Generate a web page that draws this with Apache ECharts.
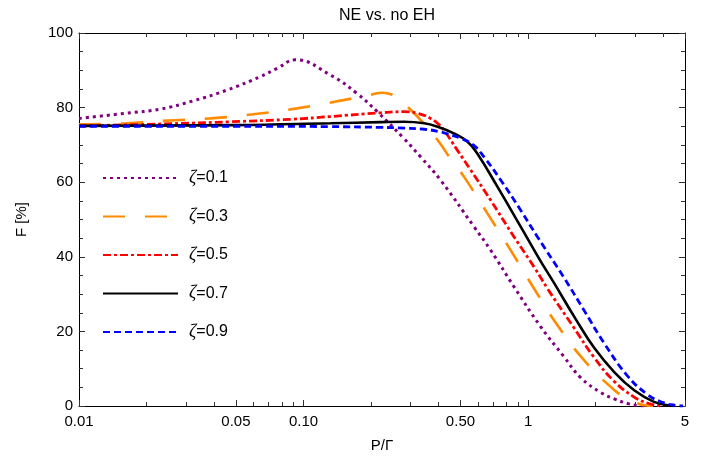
<!DOCTYPE html>
<html>
<head>
<meta charset="utf-8">
<script src="https://cdn.jsdelivr.net/npm/echarts@6/dist/echarts.min.js"></script>
<style>html,body{margin:0;padding:0;background:#fff;}#chart{width:710px;height:468px;}</style>
</head>
<body>
<div id="chart"></div>
<script>
// ---- data ----
const seriesNames = ['ζ=0.1', 'ζ=0.3', 'ζ=0.5', 'ζ=0.7', 'ζ=0.9'];

const P01 = [0.01, 0.0163, 0.023, 0.0322, 0.0456, 0.0642, 0.0762, 0.092, 0.132, 0.173, 0.213, 0.279, 0.332, 0.407, 0.574, 0.681, 0.865, 1.137, 1.446, 1.716, 2.11, 2.42, 2.8, 3.1, 3.3];
const F01 = [77.1, 78.5, 79.6, 81.8, 84.7, 88.3, 90.5, 92.8, 88.7, 83.8, 78.9, 71.8, 66.8, 60.6, 48.1, 41.8, 32.0, 21.3, 13.2, 7.6, 3.6, 1.9, 0.6, 0.1, 0];

const P03 = [0.01, 0.0163, 0.0246, 0.0384, 0.0597, 0.0935, 0.1505, 0.198, 0.224, 0.247, 0.27, 0.299, 0.338, 0.40, 0.45, 0.518, 0.658, 0.836, 1.063, 1.35, 1.775, 2.42, 2.77, 3.29, 3.6];
const F03 = [75.5, 75.8, 76.5, 77.1, 78.2, 79.8, 82.0, 83.4, 84.0, 83.5, 82.0, 79.5, 76.2, 70.9, 66.4, 61.5, 51.7, 41.8, 31.5, 21.7, 12.3, 4.3, 2.1, 0.2, 0];

const P05 = [0.01, 0.02, 0.0472, 0.0899, 0.1317, 0.220, 0.279, 0.321, 0.368, 0.40, 0.422, 0.484, 0.555, 0.681, 0.865, 1.063, 1.22, 1.60, 1.97, 2.42, 2.97, 3.4, 3.8, 4.0];
const F05 = [75.1, 75.5, 76.2, 76.9, 77.6, 78.6, 78.9, 78.5, 77.1, 75.5, 74.0, 68.6, 63.3, 55.2, 45.4, 37.3, 31.5, 21.0, 13.0, 6.6, 2.4, 0.8, 0.1, 0];

const P07 = [0.01, 0.05, 0.1317, 0.22, 0.28, 0.345, 0.394, 0.467, 0.536, 0.594, 0.730, 0.927, 1.118, 1.305, 1.63, 1.97, 2.42, 2.97, 3.64, 4.3, 4.5];
const F07 = [75.1, 75.3, 75.8, 76.1, 76.2, 75.8, 74.9, 73.1, 70.9, 67.7, 58.8, 48.1, 39.6, 33.0, 23.3, 15.6, 9.1, 4.2, 1.1, 0.1, 0];

const P09 = [0.01, 0.05, 0.1317, 0.22, 0.28, 0.345, 0.40, 0.44, 0.50, 0.57, 0.636, 0.755, 0.927, 1.10, 1.446, 1.79, 2.18, 2.77, 3.40, 4.0, 4.5, 4.9];
const F09 = [75.0, 75.0, 74.9, 74.7, 74.5, 74.2, 73.6, 72.9, 71.8, 70.0, 66.8, 60.6, 52.5, 45.4, 34.4, 25.3, 16.9, 8.1, 3.1, 0.9, 0.2, 0];

const xTickValues = [0.01, 0.05, 0.1, 0.5, 1, 5];
const xTickLabels = ['0.01', '0.05', '0.10', '0.50', '1', '5'];
const xMinorValues = [0.02, 0.03, 0.04, 0.06, 0.07, 0.08, 0.09, 0.2, 0.3, 0.4, 0.6, 0.7, 0.8, 0.9, 2, 3, 4];

// ---- styling ----
const colors = ['#800080', '#FF8C00', '#FF0000', '#000000', '#0000FF'];
const dashes = [[3, 4], [22, 20], [8, 3, 3, 3], 'solid', [7, 4]];
const widths = [3, 2.6, 2.8, 2.6, 2.8];
const allP = [P01, P03, P05, P07, P09];
const allF = [F01, F03, F05, F07, F09];

const FONT = '"Liberation Sans", Arial, sans-serif';
const axisLineStyle = { color: '#000', width: 1 };
const tickStyle = { color: '#333', width: 1 };

function xAxisDef(pos, major, showLabel) {
  return {
    type: 'log', logBase: 10, min: 0.01, max: 5, position: pos,
    axisLine: { show: major, lineStyle: axisLineStyle },
    axisTick: { show: true, inside: true, length: major ? 6 : 4, lineStyle: tickStyle,
                customValues: major ? xTickValues : xMinorValues },
    axisLabel: showLabel ? {
      show: true, customValues: xTickValues, color: '#000', fontSize: 15, fontFamily: FONT, margin: 8,
      formatter: function (v) {
        for (let i = 0; i < xTickValues.length; i++) {
          if (Math.abs(v - xTickValues[i]) / xTickValues[i] < 1e-6) return xTickLabels[i];
        }
        return '';
      }
    } : { show: false },
    splitLine: { show: false },
    name: showLabel ? 'P/Γ' : '',
    nameLocation: 'middle', nameGap: 32,
    nameTextStyle: { color: '#000', fontSize: 15, fontFamily: FONT }
  };
}
function yAxisDef(pos, showLabel) {
  return {
    type: 'value', min: 0, max: 100, interval: 20, position: pos,
    axisLine: { show: true, lineStyle: axisLineStyle },
    axisTick: { show: true, inside: true, length: 6, lineStyle: tickStyle },
    minorTick: { show: true, splitNumber: 4, length: 4, lineStyle: tickStyle },
    axisLabel: showLabel ? { show: true, color: '#000', fontSize: 15, fontFamily: FONT, margin: 6 } : { show: false },
    splitLine: { show: false },
    name: showLabel ? 'F [%]' : '',
    nameLocation: 'middle', nameGap: 50, nameRotate: 90,
    nameTextStyle: { color: '#000', fontSize: 15, fontFamily: FONT }
  };
}

const chart = echarts.init(document.getElementById('chart'), null, { renderer: 'canvas' });
chart.setOption({
  backgroundColor: '#fff',
  animation: false,
  title: {
    text: 'NE vs. no EH', left: 382, top: 3, textAlign: 'center',
    textStyle: { color: '#000', fontSize: 16, fontWeight: 'normal', fontFamily: FONT }
  },
  grid: { left: 79, right: 25, top: 33, bottom: 62, containLabel: false },
  xAxis: [
    xAxisDef('bottom', true, true),
    xAxisDef('bottom', false, false),
    xAxisDef('top', true, false),
    xAxisDef('top', false, false)
  ],
  yAxis: [
    yAxisDef('left', true),
    yAxisDef('right', false)
  ],
  legend: {
    orient: 'vertical', left: 102, top: 169, padding: 0,
    itemWidth: 75, itemHeight: 14, itemGap: 20.5,
    itemStyle: { opacity: 0 },
    data: seriesNames,
    formatter: function (name) {
      return '{z|ζ}{n|' + name.slice(1) + '}';
    },
    textStyle: {
      padding: [0, 0, 0, 6],
      rich: {
        z: { fontFamily: '"Liberation Serif", "DejaVu Serif", serif', fontStyle: 'italic', fontSize: 18, color: '#000' },
        n: { fontFamily: FONT, fontSize: 16, color: '#000' }
      }
    }
  },
  series: seriesNames.map(function (name, k) {
    return {
      name: name, type: 'line', xAxisIndex: 0, yAxisIndex: 0,
      data: allP[k].map(function (p, i) { return [p, allF[k][i]]; }),
      symbol: 'none', showSymbol: false, smooth: 0.45,
      lineStyle: { color: colors[k], width: widths[k], type: dashes[k], cap: 'butt' },
      itemStyle: { color: colors[k] },
      z: 2 + k
    };
  })
});
</script>
</body>
</html>
